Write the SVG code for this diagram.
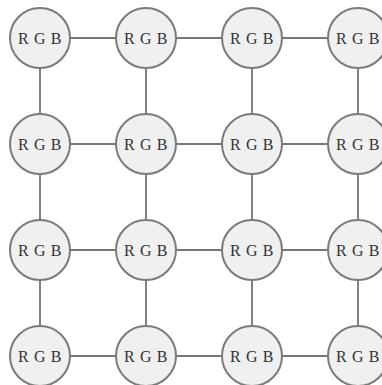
<svg xmlns="http://www.w3.org/2000/svg" width="382" height="385" viewBox="0 0 382 385">
  <style>
    .edge { stroke: #4a4a4a; stroke-width: 1.4; fill: none; }
    .node circle { fill: #f0f0f0; stroke: #7a7a7a; stroke-width: 2; }
    .node text { font-family: "Liberation Serif", "DejaVu Serif", serif; font-size: 16px; letter-spacing: 0.6px; fill: #333; text-anchor: middle; dominant-baseline: central; }
  </style>
  <rect width="382" height="385" fill="#ffffff"/>
  <g id="connectors">
    <!-- horizontal links -->
    <line class="edge" x1="40" y1="38" x2="358" y2="38"/>
    <line class="edge" x1="40" y1="144" x2="358" y2="144"/>
    <line class="edge" x1="40" y1="250" x2="358" y2="250"/>
    <line class="edge" x1="40" y1="356" x2="358" y2="356"/>
    <!-- vertical links -->
    <line class="edge" x1="40" y1="38" x2="40" y2="356"/>
    <line class="edge" x1="146" y1="38" x2="146" y2="356"/>
    <line class="edge" x1="252" y1="38" x2="252" y2="356"/>
    <line class="edge" x1="358" y1="38" x2="358" y2="356"/>
  </g>
  <g id="n00" class="node"><circle cx="40" cy="38" r="30"/><text x="40" y="38">R G B</text></g>
  <g id="n01" class="node"><circle cx="146" cy="38" r="30"/><text x="146" y="38">R G B</text></g>
  <g id="n02" class="node"><circle cx="252" cy="38" r="30"/><text x="252" y="38">R G B</text></g>
  <g id="n03" class="node"><circle cx="358" cy="38" r="30"/><text x="358" y="38">R G B</text></g>
  <g id="n10" class="node"><circle cx="40" cy="144" r="30"/><text x="40" y="144">R G B</text></g>
  <g id="n11" class="node"><circle cx="146" cy="144" r="30"/><text x="146" y="144">R G B</text></g>
  <g id="n12" class="node"><circle cx="252" cy="144" r="30"/><text x="252" y="144">R G B</text></g>
  <g id="n13" class="node"><circle cx="358" cy="144" r="30"/><text x="358" y="144">R G B</text></g>
  <g id="n20" class="node"><circle cx="40" cy="250" r="30"/><text x="40" y="250">R G B</text></g>
  <g id="n21" class="node"><circle cx="146" cy="250" r="30"/><text x="146" y="250">R G B</text></g>
  <g id="n22" class="node"><circle cx="252" cy="250" r="30"/><text x="252" y="250">R G B</text></g>
  <g id="n23" class="node"><circle cx="358" cy="250" r="30"/><text x="358" y="250">R G B</text></g>
  <g id="n30" class="node"><circle cx="40" cy="356" r="30"/><text x="40" y="356">R G B</text></g>
  <g id="n31" class="node"><circle cx="146" cy="356" r="30"/><text x="146" y="356">R G B</text></g>
  <g id="n32" class="node"><circle cx="252" cy="356" r="30"/><text x="252" y="356">R G B</text></g>
  <g id="n33" class="node"><circle cx="358" cy="356" r="30"/><text x="358" y="356">R G B</text></g>
</svg>
